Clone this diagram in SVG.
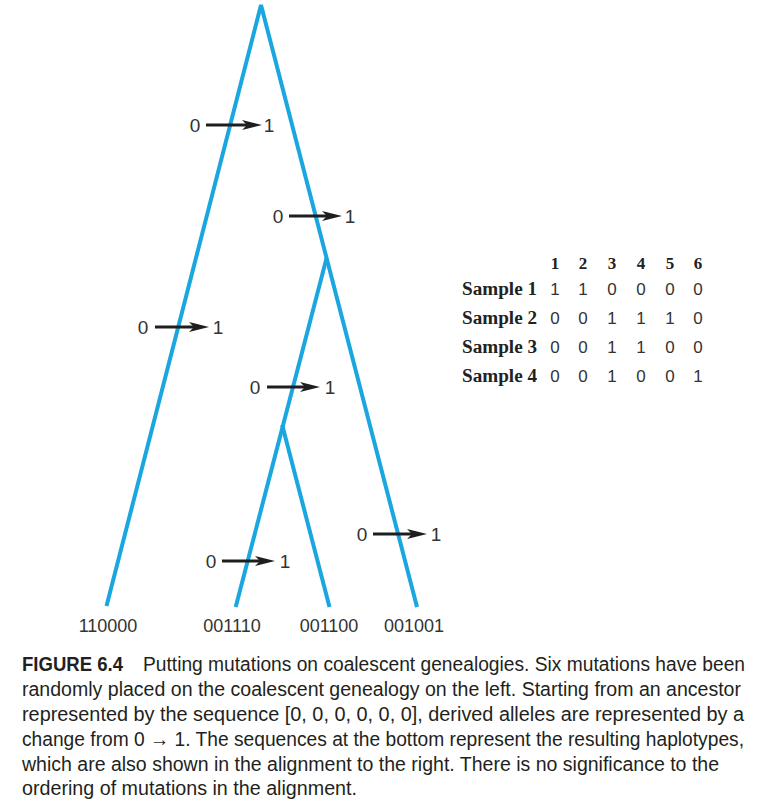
<svg xmlns="http://www.w3.org/2000/svg" width="781" height="812" viewBox="0 0 781 812">
<style>
.br{stroke:#1aa7e0;stroke-width:4;fill:none;stroke-linecap:butt}
.mu{stroke:#1e1e1e;stroke-width:3;marker-end:url(#ah)}
.lb{font-family:"Liberation Sans",Arial,sans-serif;font-size:19px;fill:#333;text-anchor:middle}
.tip{font-family:"Liberation Sans",Arial,sans-serif;font-size:18px;fill:#333;text-anchor:middle}
.hd{font-family:"Liberation Serif","Times New Roman",serif;font-size:17px;font-weight:bold;fill:#222;text-anchor:middle}
.sl{font-family:"Liberation Serif","Times New Roman",serif;font-size:18px;font-weight:bold;fill:#222}
.v{font-family:"Liberation Sans",Arial,sans-serif;font-size:17px;fill:#333;text-anchor:middle}
.cap{font-family:"Liberation Sans",Arial,sans-serif;font-size:20px;fill:#231f20}
</style>
<defs>
<marker id="ah" viewBox="0 0 20 10" refX="8" refY="5" markerWidth="20" markerHeight="10" markerUnits="userSpaceOnUse" orient="auto">
<path d="M0,0 L20,5 L0,10 L5,5 Z" fill="#1e1e1e"/>
</marker>
</defs>
<g id="connectors">
<path class="br" d="M106.5,606 L261,5 L417,607"/>
<path class="br" d="M326.6,258 L235.7,607"/>
<path class="br" d="M282.2,425 L329.5,607"/>
</g>
<g id="mutation1"><line class="mu" x1="206" y1="125" x2="250" y2="125"/><text class="lb" x="195" y="132">0</text><text class="lb" x="269" y="132">1</text></g>
<g id="mutation2"><line class="mu" x1="289" y1="216" x2="330" y2="216"/><text class="lb" x="278" y="223">0</text><text class="lb" x="350" y="223">1</text></g>
<g id="mutation3"><line class="mu" x1="155" y1="327" x2="197" y2="327"/><text class="lb" x="143" y="334">0</text><text class="lb" x="218" y="334">1</text></g>
<g id="mutation4"><line class="mu" x1="267" y1="387" x2="308" y2="387"/><text class="lb" x="255" y="394">0</text><text class="lb" x="330" y="394">1</text></g>
<g id="mutation5"><line class="mu" x1="222" y1="561" x2="263" y2="561"/><text class="lb" x="211" y="568">0</text><text class="lb" x="285" y="568">1</text></g>
<g id="mutation6"><line class="mu" x1="373" y1="534" x2="415" y2="534"/><text class="lb" x="362" y="541">0</text><text class="lb" x="436" y="541">1</text></g>
<g id="tips">
<text class="tip" x="108" y="632">110000</text>
<text class="tip" x="232" y="632">001110</text>
<text class="tip" x="329" y="632">001100</text>
<text class="tip" x="414" y="632">001001</text>
</g>
<g id="alignment">
<text class="hd" x="555" y="269">1</text><text class="hd" x="583" y="269">2</text><text class="hd" x="612" y="269">3</text><text class="hd" x="641" y="269">4</text><text class="hd" x="670" y="269">5</text><text class="hd" x="698" y="269">6</text>
<text class="sl" x="462" y="295" textLength="75" lengthAdjust="spacingAndGlyphs">Sample 1</text>
<text class="sl" x="462" y="324" textLength="75" lengthAdjust="spacingAndGlyphs">Sample 2</text>
<text class="sl" x="462" y="353" textLength="75" lengthAdjust="spacingAndGlyphs">Sample 3</text>
<text class="sl" x="462" y="382" textLength="75" lengthAdjust="spacingAndGlyphs">Sample 4</text>
<g class="v">
<text x="555" y="295">1</text><text x="583" y="295">1</text><text x="612" y="295">0</text><text x="641" y="295">0</text><text x="670" y="295">0</text><text x="698" y="295">0</text>
<text x="555" y="324">0</text><text x="583" y="324">0</text><text x="612" y="324">1</text><text x="641" y="324">1</text><text x="670" y="324">1</text><text x="698" y="324">0</text>
<text x="555" y="353">0</text><text x="583" y="353">0</text><text x="612" y="353">1</text><text x="641" y="353">1</text><text x="670" y="353">0</text><text x="698" y="353">0</text>
<text x="555" y="382">0</text><text x="583" y="382">0</text><text x="612" y="382">1</text><text x="641" y="382">0</text><text x="670" y="382">0</text><text x="698" y="382">1</text>
</g>
</g>
<g id="caption">
<text class="cap" x="22" y="671" font-weight="bold" textLength="101" lengthAdjust="spacingAndGlyphs">FIGURE 6.4</text>
<text class="cap" x="143" y="671" textLength="602" lengthAdjust="spacingAndGlyphs">Putting mutations on coalescent genealogies. Six mutations have been</text>
<text class="cap" x="22" y="696" textLength="719" lengthAdjust="spacingAndGlyphs">randomly placed on the coalescent genealogy on the left. Starting from an ancestor</text>
<text class="cap" x="22" y="721" textLength="722" lengthAdjust="spacingAndGlyphs">represented by the sequence [0, 0, 0, 0, 0, 0], derived alleles are represented by a</text>
<text class="cap" x="22" y="746" textLength="722" lengthAdjust="spacingAndGlyphs">change from 0 → 1. The sequences at the bottom represent the resulting haplotypes,</text>
<text class="cap" x="22" y="771" textLength="697" lengthAdjust="spacingAndGlyphs">which are also shown in the alignment to the right. There is no significance to the</text>
<text class="cap" x="22" y="795" textLength="335" lengthAdjust="spacingAndGlyphs">ordering of mutations in the alignment.</text>
</g>
</svg>
